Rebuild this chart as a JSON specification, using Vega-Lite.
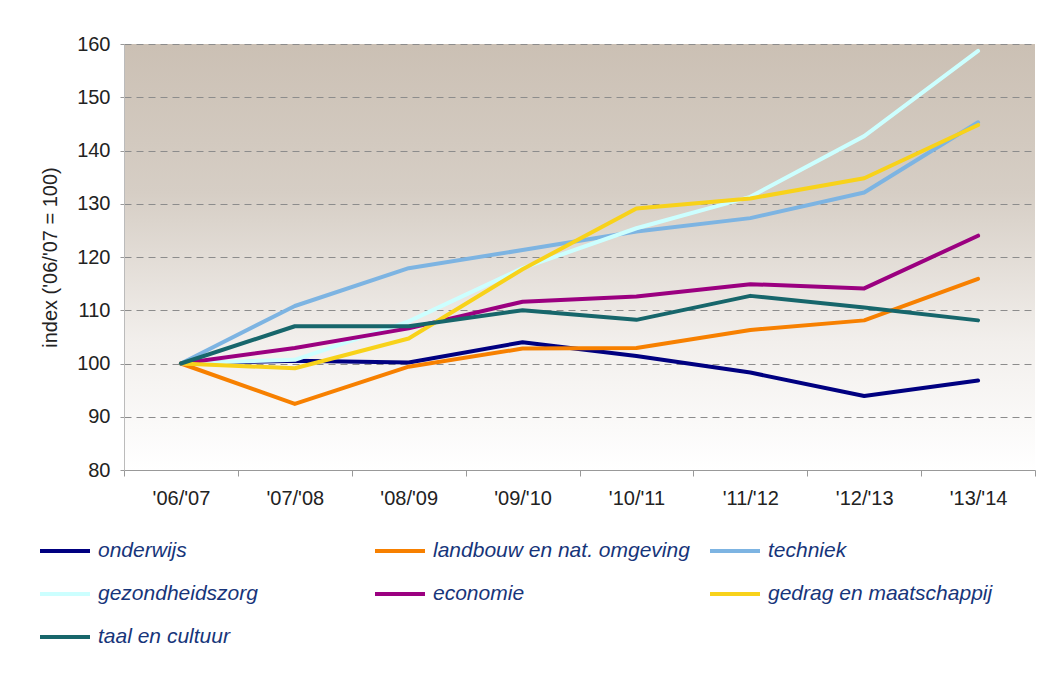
{
  "$schema": "https://vega.github.io/schema/vega-lite/v6.json",
  "width": 911,
  "height": 426,
  "autosize": {"type": "none"},
  "padding": {"left": 124, "top": 44, "right": 5, "bottom": 205},
  "background": "white",
  "data": {
    "values": [
      {"jaar": "'06/'07", "richting": "onderwijs", "index": 100},
      {"jaar": "'07/'08", "richting": "onderwijs", "index": 100.5},
      {"jaar": "'08/'09", "richting": "onderwijs", "index": 100.2},
      {"jaar": "'09/'10", "richting": "onderwijs", "index": 104.0},
      {"jaar": "'10/'11", "richting": "onderwijs", "index": 101.4},
      {"jaar": "'11/'12", "richting": "onderwijs", "index": 98.3},
      {"jaar": "'12/'13", "richting": "onderwijs", "index": 93.9},
      {"jaar": "'13/'14", "richting": "onderwijs", "index": 96.8},
      {"jaar": "'06/'07", "richting": "landbouw en nat. omgeving", "index": 100},
      {"jaar": "'07/'08", "richting": "landbouw en nat. omgeving", "index": 92.4},
      {"jaar": "'08/'09", "richting": "landbouw en nat. omgeving", "index": 99.4},
      {"jaar": "'09/'10", "richting": "landbouw en nat. omgeving", "index": 102.8},
      {"jaar": "'10/'11", "richting": "landbouw en nat. omgeving", "index": 102.9},
      {"jaar": "'11/'12", "richting": "landbouw en nat. omgeving", "index": 106.3},
      {"jaar": "'12/'13", "richting": "landbouw en nat. omgeving", "index": 108.1},
      {"jaar": "'13/'14", "richting": "landbouw en nat. omgeving", "index": 115.9},
      {"jaar": "'06/'07", "richting": "techniek", "index": 100},
      {"jaar": "'07/'08", "richting": "techniek", "index": 110.8},
      {"jaar": "'08/'09", "richting": "techniek", "index": 117.9},
      {"jaar": "'09/'10", "richting": "techniek", "index": 121.3},
      {"jaar": "'10/'11", "richting": "techniek", "index": 124.8},
      {"jaar": "'11/'12", "richting": "techniek", "index": 127.3},
      {"jaar": "'12/'13", "richting": "techniek", "index": 132.1},
      {"jaar": "'13/'14", "richting": "techniek", "index": 145.3},
      {"jaar": "'06/'07", "richting": "gezondheidszorg", "index": 100},
      {"jaar": "'07/'08", "richting": "gezondheidszorg", "index": 100.7},
      {"jaar": "'08/'09", "richting": "gezondheidszorg", "index": 107.9},
      {"jaar": "'09/'10", "richting": "gezondheidszorg", "index": 117.9},
      {"jaar": "'10/'11", "richting": "gezondheidszorg", "index": 125.4},
      {"jaar": "'11/'12", "richting": "gezondheidszorg", "index": 131.3},
      {"jaar": "'12/'13", "richting": "gezondheidszorg", "index": 142.7},
      {"jaar": "'13/'14", "richting": "gezondheidszorg", "index": 158.7},
      {"jaar": "'06/'07", "richting": "economie", "index": 100},
      {"jaar": "'07/'08", "richting": "economie", "index": 102.9},
      {"jaar": "'08/'09", "richting": "economie", "index": 106.6},
      {"jaar": "'09/'10", "richting": "economie", "index": 111.6},
      {"jaar": "'10/'11", "richting": "economie", "index": 112.6},
      {"jaar": "'11/'12", "richting": "economie", "index": 114.9},
      {"jaar": "'12/'13", "richting": "economie", "index": 114.1},
      {"jaar": "'13/'14", "richting": "economie", "index": 124.0},
      {"jaar": "'06/'07", "richting": "gedrag en maatschappij", "index": 100},
      {"jaar": "'07/'08", "richting": "gedrag en maatschappij", "index": 99.1},
      {"jaar": "'08/'09", "richting": "gedrag en maatschappij", "index": 104.7},
      {"jaar": "'09/'10", "richting": "gedrag en maatschappij", "index": 117.7},
      {"jaar": "'10/'11", "richting": "gedrag en maatschappij", "index": 129.1},
      {"jaar": "'11/'12", "richting": "gedrag en maatschappij", "index": 131.0},
      {"jaar": "'12/'13", "richting": "gedrag en maatschappij", "index": 134.8},
      {"jaar": "'13/'14", "richting": "gedrag en maatschappij", "index": 144.8},
      {"jaar": "'06/'07", "richting": "taal en cultuur", "index": 100},
      {"jaar": "'07/'08", "richting": "taal en cultuur", "index": 107.0},
      {"jaar": "'08/'09", "richting": "taal en cultuur", "index": 107.0},
      {"jaar": "'09/'10", "richting": "taal en cultuur", "index": 110.0},
      {"jaar": "'10/'11", "richting": "taal en cultuur", "index": 108.2},
      {"jaar": "'11/'12", "richting": "taal en cultuur", "index": 112.7},
      {"jaar": "'12/'13", "richting": "taal en cultuur", "index": 110.5},
      {"jaar": "'13/'14", "richting": "taal en cultuur", "index": 108.1}
    ]
  },
  "mark": {"type": "line", "strokeWidth": 4, "strokeCap": "round", "strokeJoin": "round"},
  "encoding": {
    "x": {
      "field": "jaar",
      "type": "ordinal",
      "sort": ["'06/'07", "'07/'08", "'08/'09", "'09/'10", "'10/'11", "'11/'12", "'12/'13", "'13/'14"],
      "scale": {"type": "band", "paddingInner": 0, "paddingOuter": 0},
      "bandPosition": 0.5,
      "axis": {
        "title": null,
        "labelAngle": 0,
        "labelFont": "Liberation Sans",
        "labelFontSize": 20,
        "labelColor": "#222222",
        "labelPadding": 12,
        "tickSize": 6,
        "tickBand": "extent",
        "tickColor": "#999999",
        "domainColor": "#999999",
        "grid": false
      }
    },
    "y": {
      "field": "index",
      "type": "quantitative",
      "scale": {"domain": [80, 160], "nice": false, "zero": false},
      "axis": {
        "title": "index ('06/'07 = 100)",
        "titleFont": "Liberation Sans",
        "titleFontSize": 20,
        "titleFontWeight": "normal",
        "titleColor": "#222222",
        "titlePadding": 16,
        "values": [80, 90, 100, 110, 120, 130, 140, 150, 160],
        "labelFont": "Liberation Sans",
        "labelFontSize": 20,
        "labelColor": "#222222",
        "labelPadding": 10,
        "tickSize": 4,
        "tickColor": "#999999",
        "domainColor": "#bbbbbb",
        "grid": true,
        "gridColor": "#8c8c8c",
        "gridDash": [7, 5],
        "gridWidth": 1
      }
    },
    "color": {
      "field": "richting",
      "type": "nominal",
      "sort": ["onderwijs", "landbouw en nat. omgeving", "techniek", "gezondheidszorg", "economie", "gedrag en maatschappij", "taal en cultuur"],
      "scale": {
        "domain": ["onderwijs", "landbouw en nat. omgeving", "techniek", "gezondheidszorg", "economie", "gedrag en maatschappij", "taal en cultuur"],
        "range": ["#000080", "#F78000", "#7DB4E2", "#CCFFFF", "#9B0080", "#F8D21A", "#17666B"]
      },
      "legend": {
        "title": null,
        "orient": "none",
        "legendX": -86,
        "legendY": 480,
        "columns": 3,
        "direction": "horizontal",
        "gridAlign": "all",
        "columnPadding": 12,
        "rowPadding": 6,
        "symbolType": "stroke",
        "symbolSize": 2500,
        "symbolStrokeWidth": 4,
        "labelOffset": 6,
        "labelFont": "Liberation Sans",
        "labelFontSize": 21,
        "labelFontStyle": "italic",
        "labelColor": "#17357A",
        "labelLimit": 400
      }
    }
  },
  "config": {
    "view": {
      "stroke": null,
      "fill": {
        "gradient": "linear",
        "x1": 0, "y1": 0, "x2": 0, "y2": 1,
        "stops": [
          {"offset": 0, "color": "#CBC0B4"},
          {"offset": 0.35, "color": "#D6CEC5"},
          {"offset": 0.7, "color": "#F2EFEC"},
          {"offset": 1, "color": "#FFFFFF"}
        ]
      }
    }
  }
}
